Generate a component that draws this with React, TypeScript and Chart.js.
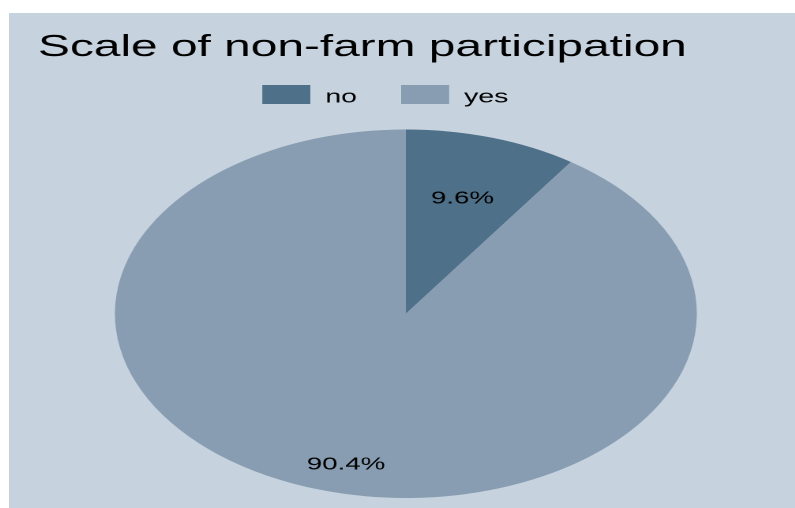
import React, { useEffect, useRef } from 'react';
import { Chart, registerables } from 'chart.js';

Chart.register(...registerables);

// ---- data ----
const TITLE = 'Scale of non-farm participation';
const CATEGORIES = ['no', 'yes'];
const SHARES = [9.6, 90.4];
const COLORS = ['#4e7088', '#889db2'];
const PANEL = '#c6d2de';

// ---- layout / style ----
const STRETCH = 1.579;
const W = 490;
const H = 495;
const FONT = '"Liberation Sans", Arial, Helvetica, sans-serif';
const LABEL_RADIUS = [0.655, 0.845];
const LABEL_ANGLE_SHIFT_DEG = [0, -3.2];

const legendPlugin = {
  id: 'stataLegend',
  afterDraw(chart: any) {
    const ctx = chart.ctx as CanvasRenderingContext2D;
    const labels: string[] = chart.data.labels;
    const colors: string[] = chart.data.datasets[0].backgroundColor;
    ctx.save();
    ctx.font = `18px ${FONT}`;
    const boxW = 30.4;
    const boxH = 19;
    const gap = 9.5;
    const itemGap = 28;
    const boxTop = 72;
    const baseline = 89.5;
    const widths = labels.map((l) => ctx.measureText(l).width);
    const total =
      widths.reduce((a, w) => a + boxW + gap + w, 0) + itemGap * (labels.length - 1);
    let x = chart.width / 2 - total / 2 - 13;
    ctx.textAlign = 'left';
    ctx.textBaseline = 'alphabetic';
    labels.forEach((l, i) => {
      ctx.fillStyle = colors[i];
      ctx.fillRect(x, boxTop, boxW, boxH);
      x += boxW + gap;
      ctx.fillStyle = '#000';
      ctx.fillText(l, x, baseline);
      x += widths[i] + itemGap;
    });
    ctx.restore();
  },
};

const sliceLabelPlugin = {
  id: 'sliceLabels',
  afterDatasetsDraw(chart: any) {
    const ctx = chart.ctx as CanvasRenderingContext2D;
    const meta = chart.getDatasetMeta(0);
    const values: number[] = chart.data.datasets[0].data;
    ctx.save();
    ctx.font = `17.5px ${FONT}`;
    ctx.fillStyle = '#000';
    ctx.textAlign = 'center';
    ctx.textBaseline = 'middle';
    meta.data.forEach((arc: any, i: number) => {
      const { x, y, startAngle, endAngle, outerRadius } = arc.getProps(
        ['x', 'y', 'startAngle', 'endAngle', 'outerRadius'],
        true
      );
      const mid = (startAngle + endAngle) / 2 + (LABEL_ANGLE_SHIFT_DEG[i] * Math.PI) / 180;
      const r = outerRadius * LABEL_RADIUS[i];
      ctx.fillText(`${values[i].toFixed(1)}%`, x + Math.cos(mid) * r, y + Math.sin(mid) * r);
    });
    ctx.restore();
  },
};

export default function App() {
  const ref = useRef<HTMLCanvasElement>(null);

  useEffect(() => {
    if (!ref.current) return;
    const chart = new Chart(ref.current, {
      type: 'pie',
      data: {
        labels: CATEGORIES,
        datasets: [
          {
            data: SHARES,
            backgroundColor: COLORS,
            borderWidth: 0,
          },
        ],
      },
      options: {
        responsive: false,
        animation: false,
        devicePixelRatio: 2,
        events: [],
        layout: { padding: { left: 12, right: 12, top: 0, bottom: 10 } },
        plugins: {
          legend: { display: false },
          tooltip: { enabled: false },
          title: {
            display: true,
            text: TITLE,
            align: 'start',
            color: '#000',
            font: { family: FONT, size: 30.3, weight: 'normal', lineHeight: 1.2 },
            padding: { top: 16.5, bottom: 63.6 },
          },
        },
      } as any,
      plugins: [legendPlugin, sliceLabelPlugin],
    });
    return () => chart.destroy();
  }, []);

  return (
    <div style={{ position: 'fixed', inset: 0, overflow: 'hidden', background: '#fff' }}>
      <div
        style={{
          position: 'absolute',
          left: 9,
          top: 13,
          width: 786,
          height: 495,
          background: PANEL,
        }}
      />
      <div
        style={{
          position: 'absolute',
          left: 19.1,
          top: 13,
          width: W,
          height: H,
          transform: `scaleX(${STRETCH})`,
          transformOrigin: '0 0',
        }}
      >
        <canvas ref={ref} width={W} height={H} style={{ display: 'block' }} />
      </div>
    </div>
  );
}
